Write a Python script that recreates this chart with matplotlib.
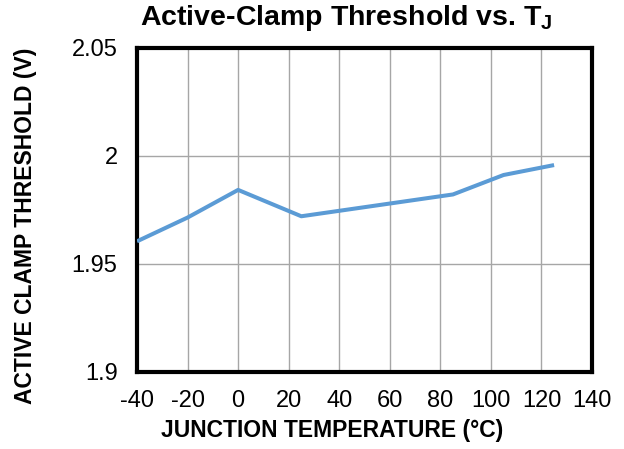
import matplotlib.pyplot as plt

plt.rcParams['font.family'] = ['Liberation Sans', 'DejaVu Sans']
plt.rcParams['axes.unicode_minus'] = False
plt.rcParams['mathtext.fontset'] = 'custom'
plt.rcParams['mathtext.bf'] = 'Liberation Sans:bold'
plt.rcParams['mathtext.rm'] = 'Liberation Sans'

# junction temperature (°C) and active-clamp threshold (V)
temp_c = [-40, -20, 0, 25, 85, 105, 125]
threshold_v = [1.9605, 1.9715, 1.9843, 1.9721, 1.9822, 1.9912, 1.9958]

x_ticks = [-40, -20, 0, 20, 40, 60, 80, 100, 120, 140]
y_ticks = [1.9, 1.95, 2.0, 2.05]
y_labels = ["1.9", "1.95", "2", "2.05"]

fig = plt.figure(figsize=(6.24, 4.49), dpi=100)
ax = fig.add_axes([137 / 624, 1 - 372 / 449, (592 - 137) / 624, (372 - 48) / 449])

ax.plot(temp_c, threshold_v, color="#5B9BD5", linewidth=2.9, solid_capstyle="butt", zorder=3)

ax.set_xlim(-40, 140)
ax.set_ylim(1.9, 2.05)
ax.set_xticks(x_ticks)
ax.set_yticks(y_ticks)
ax.set_yticklabels(y_labels)
ax.grid(True, color="#A6A6A6", linewidth=1.0)
ax.tick_params(length=0, labelsize=17)
ax.tick_params(axis="x", pad=13)
ax.tick_params(axis="y", pad=14)
for s in ax.spines.values():
    s.set_linewidth(3)
    s.set_color("black")

fig.text(346 / 624, 1 - 18 / 449, r"Active-Clamp Threshold vs. $\mathbf{T_J}$",
         ha="center", va="center", fontsize=20.5, fontweight="bold")
fig.text(332 / 624, 1 - 431 / 449, "JUNCTION TEMPERATURE (°C)",
         ha="center", va="center", fontsize=16.5, fontweight="bold")
fig.text(26 / 624, 1 - 226 / 449, "ACTIVE CLAMP THRESHOLD (V)",
         ha="center", va="center", rotation=90, fontsize=16.5, fontweight="bold")

fig.savefig("out.png", dpi=100)
